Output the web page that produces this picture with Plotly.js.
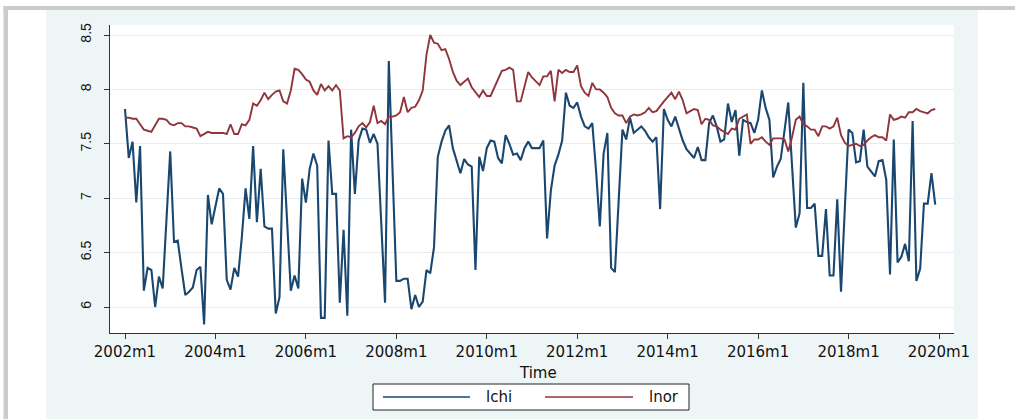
<!DOCTYPE html>
<html><head><meta charset="utf-8">
<script src="https://cdn.plot.ly/plotly-3.0.1.min.js"></script>
<style>html,body{margin:0;padding:0;background:#fff}#chart{width:1015px;height:419px}</style>
</head><body><div id="chart"></div>
<script>
// Monthly series 2002m1 .. 2019m12 (216 months)
const lchi = [
7.82,7.37,7.52,6.96,7.48,6.15,6.36,6.34,6.00,6.28,6.17,6.85,
7.43,6.60,6.61,6.35,6.11,6.14,6.18,6.34,6.37,5.84,7.03,6.76,
6.93,7.09,7.04,6.25,6.16,6.36,6.28,6.64,7.09,6.81,7.48,6.78,
7.27,6.74,6.72,6.72,5.94,6.09,7.45,6.75,6.15,6.29,6.17,7.18,
6.96,7.27,7.41,7.30,5.90,5.90,7.53,7.04,7.04,6.04,6.71,5.92,
7.63,7.04,7.53,7.64,7.63,7.51,7.59,7.50,6.75,6.04,8.26,7.30,
6.24,6.24,6.26,6.26,5.98,6.11,6.00,6.05,6.34,6.31,6.55,7.38,
7.52,7.62,7.67,7.46,7.35,7.23,7.36,7.31,7.29,6.34,7.38,7.25,
7.46,7.53,7.52,7.37,7.32,7.58,7.50,7.40,7.41,7.35,7.46,7.52,
7.46,7.46,7.46,7.53,6.63,7.07,7.30,7.40,7.53,7.97,7.85,7.83,
7.88,7.75,7.66,7.64,7.69,7.25,6.74,7.41,7.60,6.36,6.32,6.98,
7.63,7.54,7.74,7.60,7.63,7.66,7.62,7.56,7.52,7.56,6.90,7.82,
7.72,7.66,7.75,7.63,7.53,7.45,7.41,7.37,7.47,7.35,7.35,7.69,
7.76,7.66,7.52,7.54,7.87,7.70,7.81,7.39,7.72,7.70,7.69,7.60,
7.72,7.99,7.83,7.72,7.19,7.29,7.36,7.60,7.88,7.30,6.73,6.86,
8.06,6.91,6.91,6.95,6.47,6.47,6.90,6.29,6.29,6.99,6.14,6.90,
7.63,7.60,7.33,7.34,7.63,7.29,7.25,7.20,7.34,7.35,7.17,6.30,
7.54,6.41,6.46,6.58,6.42,7.71,6.24,6.35,6.95,6.95,7.23,6.94
];
const lnor = [
7.74,7.74,7.73,7.73,7.68,7.63,7.62,7.61,7.67,7.73,7.73,7.72,
7.68,7.67,7.69,7.69,7.66,7.66,7.65,7.64,7.57,7.59,7.61,7.60,
7.60,7.60,7.60,7.59,7.68,7.59,7.59,7.68,7.67,7.72,7.87,7.85,
7.90,7.97,7.91,7.95,7.98,7.99,7.89,7.87,7.99,8.19,8.18,8.14,
8.09,8.07,7.99,7.95,8.05,7.99,8.03,7.99,8.04,7.99,7.55,7.57,
7.56,7.60,7.66,7.69,7.65,7.70,7.85,7.69,7.71,7.68,7.75,7.75,
7.76,7.79,7.93,7.79,7.83,7.84,7.90,7.99,8.32,8.50,8.43,8.42,
8.36,8.37,8.28,8.16,8.08,8.04,8.07,8.10,8.02,7.98,7.93,7.99,
7.94,7.94,8.02,8.10,8.17,8.18,8.20,8.18,7.89,7.89,8.02,8.16,
8.11,8.07,8.04,8.12,8.12,8.17,7.89,8.18,8.15,8.18,8.16,8.16,
8.22,8.03,7.97,7.94,8.06,8.00,8.00,7.97,7.93,7.83,7.78,7.76,
7.76,7.69,7.75,7.77,7.76,7.77,7.79,7.83,7.79,7.80,7.85,7.89,
7.93,7.97,7.91,7.98,7.90,7.78,7.80,7.82,7.81,7.68,7.73,7.72,
7.67,7.66,7.63,7.61,7.59,7.64,7.63,7.73,7.75,7.77,7.50,7.54,
7.54,7.56,7.52,7.49,7.55,7.55,7.55,7.54,7.43,7.56,7.72,7.75,
7.68,7.66,7.63,7.63,7.57,7.66,7.66,7.64,7.66,7.74,7.58,7.51,
7.48,7.49,7.50,7.48,7.49,7.53,7.56,7.58,7.56,7.56,7.53,7.77,
7.72,7.73,7.75,7.74,7.79,7.79,7.82,7.80,7.79,7.78,7.81,7.82
];
const xTickVals = [0,24,48,72,96,120,144,168,192,216];
const xTickText = ["2002m1","2004m1","2006m1","2008m1","2010m1","2012m1","2014m1","2016m1","2018m1","2020m1"];
const yTickVals = [6,6.5,7,7.5,8,8.5];
const yTickText = ["6","6.5","7","7.5","8","8.5"];
const seriesNames = ["lchi","lnor"];

const t = lchi.map((_, i) => i);
const navy = '#1a476f', maroon = '#90353b';

const traces = [
  {x: t, y: lchi, type: 'scatter', mode: 'lines', name: seriesNames[0],
   line: {color: navy, width: 2.1}},
  {x: t, y: lnor, type: 'scatter', mode: 'lines', name: seriesNames[1],
   line: {color: maroon, width: 1.9}}
];

const W = 844, H = 308, L = 110, T = 25;
const px = v => (v - L) / W;
const py = v => (T + H - v) / H;

const shapes = [
  // outer gray frame
  {type:'rect', xref:'paper', yref:'paper', layer:'below', x0:px(3.5), x1:px(1015), y0:py(10), y1:py(6), fillcolor:'#cccccc', line:{width:0}},
  {type:'rect', xref:'paper', yref:'paper', layer:'below', x0:px(3.5), x1:px(8), y0:py(419), y1:py(6), fillcolor:'#cccccc', line:{width:0}},
  // graph region
  {type:'rect', xref:'paper', yref:'paper', layer:'below', x0:px(46), x1:px(978), y0:py(419), y1:py(10), fillcolor:'#eef5f6', line:{width:0}},
  // plot region
  {type:'rect', xref:'paper', yref:'paper', layer:'below', x0:0, x1:1, y0:0, y1:1, fillcolor:'#ffffff', line:{width:0}},
  // legend box
  {type:'rect', xref:'paper', yref:'paper', x0:px(373), x1:px(689), y0:py(410), y1:py(384), fillcolor:'#ffffff', line:{color:'#222', width:1}},
  {type:'line', xref:'paper', yref:'paper', x0:px(383), x1:px(470), y0:py(397), y1:py(397), line:{color:navy, width:1.5}},
  {type:'line', xref:'paper', yref:'paper', x0:px(545), x1:px(633), y0:py(397), y1:py(397), line:{color:maroon, width:1.5}}
];

const txtFont = {family:'DejaVu Sans', size:15, color:'#111'};
const annotations = [
  {xref:'paper', yref:'paper', x:px(538), y:py(373), text:'Time', showarrow:false, xanchor:'center', yanchor:'middle', font:txtFont},
  {xref:'paper', yref:'paper', x:px(484), y:py(397), text:seriesNames[0], showarrow:false, xanchor:'left', yanchor:'middle', font:txtFont},
  {xref:'paper', yref:'paper', x:px(647), y:py(397), text:seriesNames[1], showarrow:false, xanchor:'left', yanchor:'middle', font:txtFont}
];

const layout = {
  width: 1015, height: 419,
  margin: {l: L, r: 1015 - L - W, t: T, b: 419 - T - H, pad: 0},
  paper_bgcolor: '#ffffff',
  plot_bgcolor: 'rgba(0,0,0,0)',
  showlegend: false,
  xaxis: {
    range: [-3.98, 219.98], tickmode: 'array', tickvals: xTickVals, ticktext: xTickText,
    showgrid: false, zeroline: false, showline: true, linecolor: '#333', linewidth: 1,
    ticks: 'outside', ticklen: 5, tickcolor: '#333', tickwidth: 1,
    tickfont: {family: 'DejaVu Sans', size: 15, color: '#111'}
  },
  yaxis: {
    range: [5.761, 8.592], tickmode: 'array', tickvals: yTickVals, ticktext: yTickText,
    showgrid: true, gridcolor: '#e4eef0', gridwidth: 1, zeroline: false,
    showline: true, linecolor: '#333', linewidth: 1,
    ticks: 'outside', ticklen: 5, tickcolor: '#333', tickwidth: 1, tickangle: -90,
    ticklabelstandoff: 7,
    tickfont: {family: 'Liberation Sans, Arial', size: 14, color: '#111'}
  },
  shapes: shapes,
  annotations: annotations
};

Plotly.newPlot('chart', traces, layout, {displayModeBar: false, staticPlot: true});
</script>
</body></html>
